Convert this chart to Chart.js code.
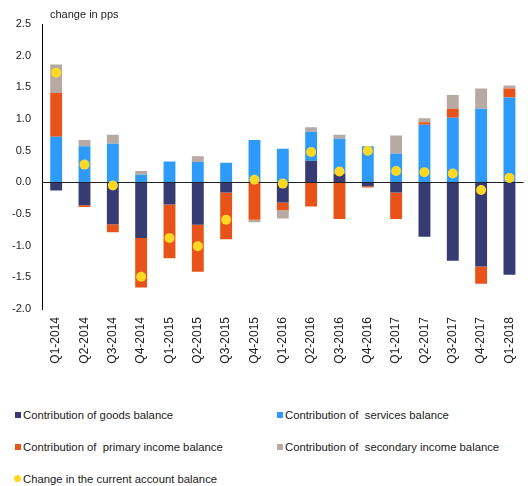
<!DOCTYPE html>
<html>
<head>
<meta charset="utf-8">
<script src="https://cdn.jsdelivr.net/npm/chart.js@4"></script>
<style>
  body { margin: 0; background: #fff; font-family: "Liberation Sans", Arial, sans-serif; }
  #wrap { position: relative; width: 532px; height: 486px; }
  #chart-box { position: absolute; left: 0; top: 0; width: 532px; height: 369px; }
  .lg { position: absolute; font-size: 11.3px; color: #222; white-space: pre; line-height: 14px; }
  .lg i { display: inline-block; width: 6px; height: 6px; margin-right: 2px; vertical-align: 1px; }
  .lg i.dot { width: 7px; height: 7px; border-radius: 50%; }
</style>
</head>
<body>
<div id="wrap">
  <div id="chart-box"><canvas id="chart"></canvas></div>
  <div class="lg" style="left:15px;top:408px"><i style="background:#363c73"></i>Contribution of goods balance</div>
  <div class="lg" style="left:277px;top:408px"><i style="background:#2e9bfb"></i>Contribution of  services balance</div>
  <div class="lg" style="left:15px;top:440px"><i style="background:#e8531a"></i>Contribution of  primary income balance</div>
  <div class="lg" style="left:277px;top:440px"><i style="background:#b6aaa3"></i>Contribution of  secondary income balance</div>
  <div class="lg" style="left:14px;top:472px"><i class="dot" style="background:#ffd823"></i>Change in the current account balance</div>
</div>
<script>
// Data
const quarters = ["Q1-2014", "Q2-2014", "Q3-2014", "Q4-2014", "Q1-2015", "Q2-2015", "Q3-2015", "Q4-2015",
  "Q1-2016", "Q2-2016", "Q3-2016", "Q4-2016", "Q1-2017", "Q2-2017", "Q3-2017", "Q4-2017", "Q1-2018"];
const goods =     [-0.13, -0.36, -0.66, -0.88, -0.35, -0.67, -0.16, 0.0, -0.32, 0.34, 0.14, -0.06, -0.16, -0.86, -1.24, -1.33, -1.46];
const services =  [0.72, 0.57, 0.61, 0.12, 0.33, 0.32, 0.31, 0.67, 0.53, 0.46, 0.55, 0.57, 0.45, 0.91, 1.02, 1.16, 1.34];
const primary =   [0.69, -0.03, -0.13, -0.78, -0.85, -0.74, -0.74, -0.59, -0.12, -0.38, -0.58, -0.02, -0.42, 0.04, 0.14, -0.27, 0.14];
const secondary = [0.45, 0.10, 0.14, 0.06, 0.0, 0.09, 0.0, -0.04, -0.13, 0.07, 0.06, 0.0, 0.29, 0.06, 0.22, 0.32, 0.05];
const caChange =  [1.73, 0.28, -0.05, -1.49, -0.88, -1.01, -0.59, 0.04, -0.02, 0.48, 0.17, 0.50, 0.18, 0.16, 0.14, -0.12, 0.07];

const FONT = "'Liberation Sans', Arial, sans-serif";

// zero line drawn on top of the bars, under the dots
const zeroLine = {
  id: "zeroLine",
  afterDatasetDraw(chart, args) {
    if (args.meta.type !== "bar" || args.index !== 0) return;
    const { ctx, chartArea } = chart;
    const y = Math.round(chart.scales.y.getPixelForValue(0)) + 0.5;
    ctx.save();
    ctx.strokeStyle = "#222";
    ctx.lineWidth = 1.2;
    ctx.beginPath();
    ctx.moveTo(chartArea.left, y);
    ctx.lineTo(chartArea.right, y);
    ctx.stroke();
    ctx.restore();
  },
  afterDraw(chart) {
    const { ctx, chartArea } = chart;
    ctx.save();
    ctx.fillStyle = "#222";
    ctx.font = "11px " + FONT;
    ctx.textBaseline = "middle";
    ctx.fillText("change in pps", chartArea.left + 8, 15);
    ctx.restore();
  },
};

const barDs = (label, data, color) => ({
  type: "bar",
  label,
  data,
  backgroundColor: color,
  borderWidth: 0,
  barPercentage: 0.42,
  categoryPercentage: 1,
  stack: "contrib",
  order: 1,
});

new Chart(document.getElementById("chart"), {
  data: {
    labels: quarters,
    datasets: [
      barDs("Contribution of goods balance", goods, "#363c73"),
      barDs("Contribution of  services balance", services, "#2e9bfb"),
      barDs("Contribution of  primary income balance", primary, "#e8531a"),
      barDs("Contribution of  secondary income balance", secondary, "#b6aaa3"),
      {
        type: "line",
        label: "Change in the current account balance",
        data: caChange,
        showLine: false,
        pointRadius: 5,
        pointBackgroundColor: "#ffd823",
        pointBorderWidth: 0,
        stack: "ca",
        order: 0,
      },
    ],
  },
  options: {
    responsive: true,
    maintainAspectRatio: false,
    animation: false,
    layout: { padding: { top: 24, right: 5, left: 0, bottom: 0 } },
    plugins: { legend: { display: false }, tooltip: { enabled: false } },
    scales: {
      x: {
        stacked: true,
        offset: true,
        grid: { display: false, drawTicks: false },
        border: { display: false },
        ticks: { minRotation: 90, maxRotation: 90, padding: 8, color: "#222", font: { family: FONT, size: 12 } },
        afterFit: s => { s.height = 60; },
      },
      y: {
        stacked: true,
        min: -2,
        max: 2.5,
        grid: { display: false, drawTicks: false },
        border: { display: true, color: "#000", width: 1 },
        ticks: { stepSize: 0.5, padding: 11, color: "#222", font: { family: FONT, size: 11 },
          callback: v => v.toFixed(1) },
        afterFit: s => { s.width = 42; },
      },
    },
  },
  plugins: [zeroLine],
});
</script>
</body>
</html>
